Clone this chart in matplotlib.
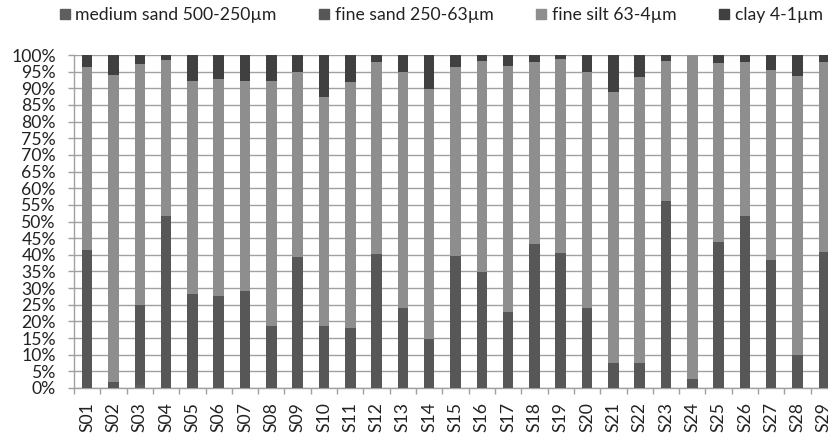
import matplotlib
matplotlib.use("Agg")
import matplotlib.pyplot as plt
from matplotlib.lines import Line2D
import numpy as np

plt.rcParams["font.family"] = ["Lato", "DejaVu Sans"]

SAMPLES = [f"S{i:02d}" for i in range(1, 30)]
SERIES = ["medium sand 500-250µm", "fine sand 250-63µm", "fine silt 63-4µm", "clay 4-1µm"]

# percent values
medium_sand = [0, 0, 1.0, 0, 0, 0, 0, 0, 0, 0,
               0, 0, 0, 0, 0, 0, 0, 0, 0, 0,
               0, 0, 0, 0, 0, 0, 0, 0, 0]
fine_sand = [41.4, 1.9, 23.9, 51.7, 28.2, 27.7, 29.2, 18.6, 39.4, 18.6,
             17.9, 40.1, 23.9, 14.8, 39.7, 34.7, 22.9, 43.1, 40.4, 23.9,
             7.4, 7.5, 56.1, 2.7, 43.9, 51.7, 38.4, 9.9, 40.7]
fine_silt = [55.1, 92.1, 72.4, 46.8, 64.1, 65.1, 63.1, 73.7, 55.6, 68.9,
             74.1, 57.9, 71.1, 74.9, 56.8, 63.6, 73.8, 54.9, 58.5, 70.9,
             81.4, 85.8, 42.2, 97.3, 53.6, 46.1, 57.1, 83.8, 57.3]
clay = [3.5, 6.0, 2.7, 1.5, 7.7, 7.2, 7.7, 7.7, 5.0, 12.5,
        8.0, 2.0, 5.0, 10.3, 3.5, 1.7, 3.3, 2.0, 1.1, 5.2,
        11.2, 6.7, 1.7, 0.0, 2.5, 2.2, 4.5, 6.3, 2.0]

COLORS = ["#5e5e5e", "#575757", "#8e8e8e", "#404040"]
GRID = "#a0a0a0"

fig = plt.figure(figsize=(8.29, 4.33), dpi=100)
ax = fig.add_axes([74 / 829, 45 / 433, 763 / 829, 333 / 433])

x = np.arange(len(SAMPLES))
data = [medium_sand, fine_sand, fine_silt, clay]
bottom = np.zeros(len(SAMPLES))
for vals, col in zip(data, COLORS):
    vals = np.array(vals)
    ax.bar(x, vals, 0.4, bottom=bottom, color=col, zorder=3)
    bottom += vals

ax.set_xlim(-0.5, len(SAMPLES) - 0.5)
ax.set_ylim(0, 100)
ax.set_yticks(np.arange(0, 101, 5))
ax.set_yticklabels([f"{v}%" for v in range(0, 101, 5)], fontsize=12.7, color="#222222")
ax.set_xticks(x)
ax.set_xticklabels(SAMPLES, rotation=90, fontsize=12.7, color="#222222")
ax.set_xticks(np.arange(-0.5, len(SAMPLES), 1), minor=True)
ax.tick_params(axis="x", which="major", length=0, pad=10)
ax.tick_params(axis="x", which="minor", length=4, color=GRID, width=1)
ax.tick_params(axis="y", length=4, color=GRID, width=1, pad=9)
ax.yaxis.grid(True, color=GRID, linewidth=1, zorder=0)
for s in ["right", "top"]:
    ax.spines[s].set_visible(False)
for s in ["left", "bottom"]:
    ax.spines[s].set_color(GRID)
    ax.spines[s].set_linewidth(1)

handles = [Line2D([], [], marker="s", linestyle="none", markersize=7,
                  markerfacecolor=c, markeredgecolor=c) for c in COLORS]
fig.legend(handles, SERIES, loc="center", bbox_to_anchor=(0.53, 0.965),
           ncol=4, frameon=False, fontsize=12.7, handletextpad=0.1,
           columnspacing=2.2, handlelength=1.0, labelcolor="#222222")

fig.savefig("out.png", dpi=100, facecolor="white")
